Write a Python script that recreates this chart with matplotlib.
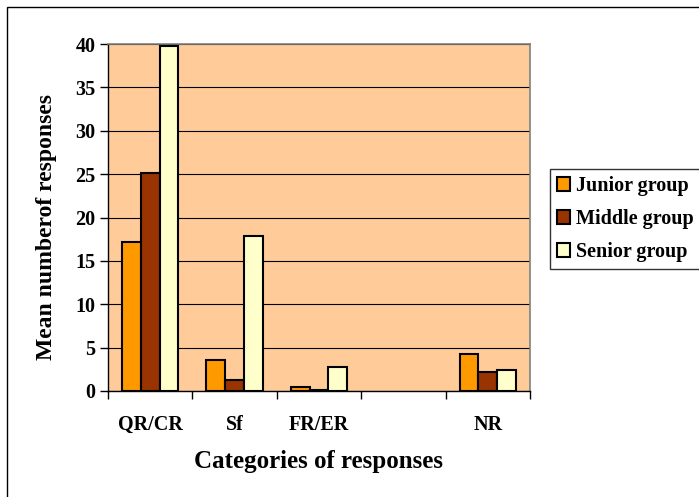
import numpy as np
import matplotlib.pyplot as plt
from matplotlib.patches import Rectangle

categories = ["QR/CR", "Sf", "FR/ER", "", "NR"]
# the blank category has no bars in the original
junior = [17.2, 3.6, 0.5, np.nan, 4.3]
middle = [25.1, 1.3, 0.1, np.nan, 2.2]
senior = [39.8, 17.9, 2.8, np.nan, 2.4]
series_names = ["Junior group", "Middle group", "Senior group"]
colors = ["#FF9900", "#993300", "#FFFFCC"]

plt.rcParams["font.family"] = ["Liberation Serif", "DejaVu Serif"]
plt.rcParams["font.weight"] = "bold"

fig = plt.figure(figsize=(6.99, 4.97), dpi=100)
ax = fig.add_axes([108 / 699, 1 - 391 / 497, (530 - 108) / 699, (391 - 44) / 497])

# outer frame (only top/left visible in the reference)
fig.patches.append(Rectangle((7 / 699, -0.1), 1.2, 1 - 7 / 497 + 0.1,
                             transform=fig.transFigure, fill=False,
                             edgecolor="black", linewidth=1.0))

x = np.arange(len(categories))
w = 0.222
for i, (vals, name) in enumerate(zip([junior, middle, senior], series_names)):
    ax.bar(x + (i - 1) * w, vals, width=w, color=colors[i], edgecolor="black",
           linewidth=1.5, label=name, zorder=3)

ax.set_facecolor("#FFCC99")
ax.set_xlim(-0.5, len(categories) - 0.5)
ax.set_ylim(0, 40)
ax.set_yticks(range(0, 41, 5))
ax.yaxis.grid(True, color="black", linewidth=0.8, zorder=1)
ax.set_axisbelow(True)

ax.set_xticks(x)
ax.set_xticklabels(categories, fontsize=14.5, fontweight="bold")
ax.set_xticks(np.arange(-0.5, len(categories), 1), minor=True)
ax.tick_params(axis="x", which="major", length=0, pad=17)
ax.tick_params(axis="x", which="minor", length=6, width=1, color="black")
ax.tick_params(axis="y", length=6, width=1, labelsize=14.5, pad=3)
for lab in ax.get_yticklabels():
    lab.set_fontweight("bold")

for s in ["top", "right"]:
    ax.spines[s].set_color("#808080")
    ax.spines[s].set_linewidth(1.2)
for s in ["left", "bottom"]:
    ax.spines[s].set_color("black")
    ax.spines[s].set_linewidth(1.0)

ax.set_ylabel("Mean numberof responses", fontsize=17, fontweight="bold")
ax.yaxis.set_label_coords(-0.121, 0.473)
ax.set_xlabel("Categories of responses", fontsize=18, fontweight="bold", labelpad=11)

leg = fig.legend(loc="upper left", bbox_to_anchor=(550 / 699, 1 - 169 / 497),
                 fontsize=14.5, frameon=True, fancybox=False, shadow=False,
                 handlelength=0.65, handleheight=0.65, handletextpad=0.3,
                 borderpad=0.35, labelspacing=0.65, borderaxespad=0)
leg.get_frame().set_edgecolor("black")
leg.get_frame().set_linewidth(1.0)
for t in leg.get_texts():
    t.set_fontweight("bold")

fig.savefig("out.png", dpi=100)
